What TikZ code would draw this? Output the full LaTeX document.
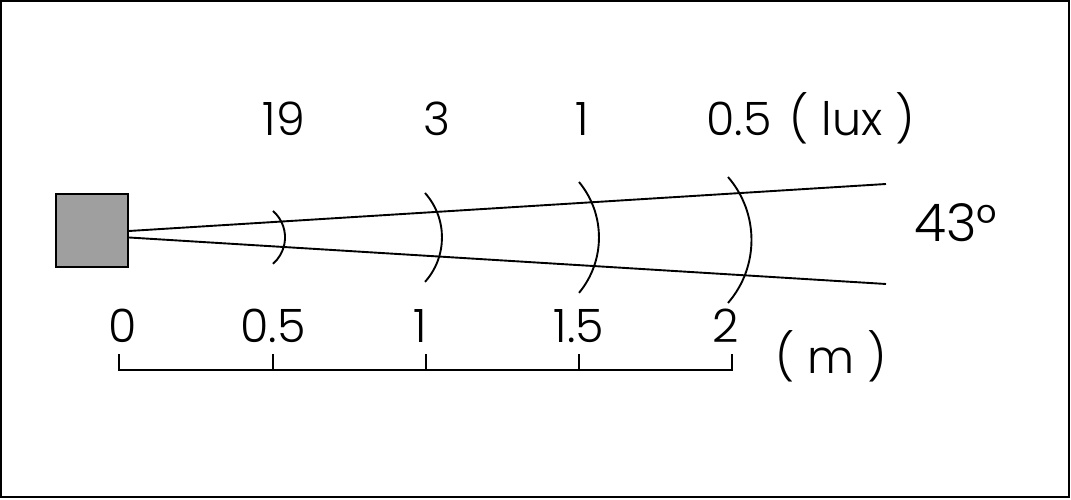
\documentclass[tikz,border=0pt]{standalone}
\usepackage{fontspec}
\setmainfont{Poppins Light}
\usetikzlibrary{positioning}
\begin{document}
\begin{tikzpicture}[x=1pt,y=1pt,
  line width=1.9pt,
  lbl/.style = {font=\fontsize{46}{50}\selectfont,anchor=base,inner sep=0pt},
  big/.style = {font=\fontsize{52}{56}\selectfont,anchor=base,inner sep=0pt},
  lamp/.style = {draw,fill=gray!75,minimum width=72pt,minimum height=73pt,
        inner sep=0pt,line width=2pt}]
 \useasboundingbox (0,0) rectangle (1071,500);
 \draw[line width=2.4pt] (1,3) rectangle (1069,499);
 \node[lamp] (lamp) at (92,269.5) {};
 % beam
 \coordinate (up) at (886,316);
 \coordinate (dn) at (886,216);
 \draw ([yshift=-0.5pt]lamp.east) -- (up);
 \draw ([yshift=-7pt]lamp.east) -- (dn);
 \foreach \ax/\ay/\r/\a in {273/289/35/49, 425/307/66.7/41.8,
        579/318/87/39.6, 728/323/96.2/40.9}
  \draw (\ax,\ay) arc[start angle=\a, end angle=-\a, radius=\r];
 % lux values
 \foreach \n/\x/\t in {1/284/19, 2/437/3, 3/582/1, 4/739/0.5}
  \node[lbl] (v\n) at (\x,364) {\t};
 \node[lbl] (lux) at (852,364) {( lux )};
 \node[big] (ang) at (956,258) {43°};
 % scale
 \foreach \n/\x/\t/\c in {0/119/0/123, 1/273/0.5/273, 2/426/1/420,
        3/579/1.5/579, 4/732/2/726} {
  \coordinate (s\n) at (\x,130);
  \coordinate (k\n) at (\x,146);
  \node[lbl] (m\n) at (\c,157) {\t};
 }
 \draw (k0) -- (s0) -- (s4) -- (k4);
 \foreach \n in {1,2,3} \draw (s\n) -- (k\n);
 \node[lbl] (unit) at (831,126) {( m )};
\end{tikzpicture}
\end{document}
